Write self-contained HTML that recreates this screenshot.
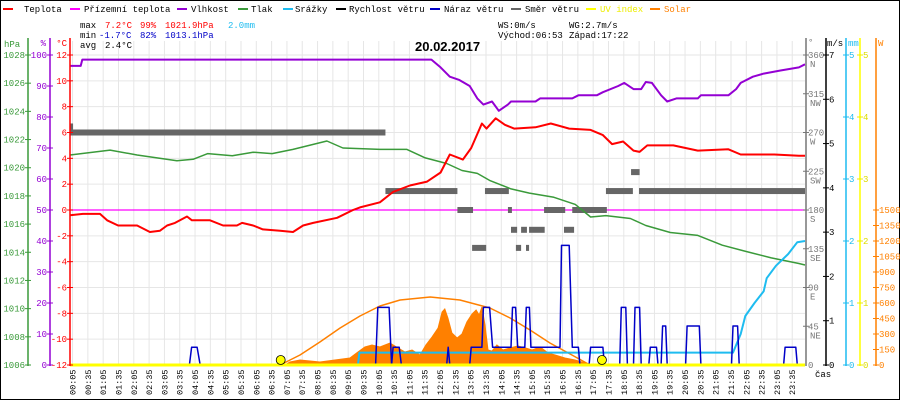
<!DOCTYPE html>
<html><head><meta charset="utf-8">
<style>
html,body{margin:0;padding:0;background:#fff;}
svg{display:block;font-family:"Liberation Mono","DejaVu Sans Mono",monospace;}
</style></head>
<body>
<svg id="chart" width="900" height="400" viewBox="0 0 900 400" xmlns="http://www.w3.org/2000/svg">
<rect x="0.5" y="0.5" width="899" height="399" fill="#fff" stroke="#000"/>
<g id="grid"></g>
<g id="legend" font-size="9">
  <g><rect x="3" y="8" width="10" height="2" fill="#f00"/><text x="24" y="12">Teplota</text></g>
  <g><rect x="70" y="8" width="10" height="2" fill="#f0f"/><text x="84" y="12">Přízemní teplota</text></g>
  <g><rect x="177" y="8" width="10" height="2" fill="#9400d3"/><text x="191" y="12">Vlhkost</text></g>
  <g><rect x="238" y="8" width="10" height="2" fill="#3a9a3a"/><text x="251" y="12">Tlak</text></g>
  <g><rect x="283" y="8" width="10" height="2" fill="#1ebcf0"/><text x="295" y="12">Srážky</text></g>
  <g><rect x="336" y="8" width="10" height="2" fill="#000"/><text x="349" y="12">Rychlost větru</text></g>
  <g><rect x="430" y="8" width="10" height="2" fill="#0000c8"/><text x="444" y="12">Náraz větru</text></g>
  <g><rect x="511" y="8" width="10" height="2" fill="#666"/><text x="525" y="12">Směr větru</text></g>
  <g><rect x="586" y="8" width="10" height="2" fill="#ff0"/><text x="600" y="12" fill="#ee0">UV index</text></g>
  <g><rect x="650" y="8" width="10" height="2" fill="#ff8000"/><text x="664" y="12" fill="#ff8000">Solar</text></g>
</g>
<g font-size="9">
  <text x="80" y="28">max</text><text x="105" y="28" fill="#f00">7.2°C</text><text x="140" y="28" fill="#f00">99%</text><text x="165" y="28" fill="#f00">1021.9hPa</text><text x="228" y="28" fill="#1ebcf0">2.0mm</text>
  <text x="80" y="38">min</text><text x="99" y="38" fill="#0000c8">-1.7°C</text><text x="140" y="38" fill="#0000c8">82%</text><text x="165" y="38" fill="#0000c8">1013.1hPa</text>
  <text x="80" y="48">avg</text><text x="105" y="48">2.4°C</text>
  <text x="498" y="28">WS:0m/s</text><text x="569" y="28">WG:2.7m/s</text>
  <text x="498" y="38">Východ:06:53</text><text x="569" y="38">Západ:17:22</text>
</g>
<text x="415" y="51" font-size="13" font-weight="bold" font-family="Liberation Sans, sans-serif">20.02.2017</text>
<g id="series"></g>
<g id="axes" font-size="9"></g>
</svg>
<script>
const NS="http://www.w3.org/2000/svg";
// ---- data ----
const tempPts=[[0,-0.4],[0.42,-0.3],[0.98,-0.3],[1.21,-0.8],[1.57,-1.2],[2.19,-1.2],[2.61,-1.7],[2.94,-1.6],[3.17,-1.2],[3.43,-1.0],[3.82,-0.5],[3.98,-0.8],[4.57,-0.8],[5.0,-1.2],[5.45,-1.2],[5.62,-1.0],[5.98,-1.2],[6.3,-1.5],[6.86,-1.6],[7.28,-1.7],[7.61,-1.2],[7.94,-1.0],[8.72,-0.6],[9.24,0],[9.47,0.2],[10.12,0.6],[10.55,1.4],[11.1,1.9],[11.66,2.2],[12.1,2.9],[12.4,4.3],[12.83,3.9],[13.1,4.8],[13.45,6.7],[13.6,6.3],[13.9,7.1],[14.2,6.6],[14.5,6.3],[15.2,6.4],[15.7,6.7],[16.3,6.3],[17.0,6.2],[17.4,5.8],[17.7,5.1],[18.06,5.3],[18.4,4.6],[18.6,4.5],[18.85,5.0],[19.7,5.0],[20.5,4.6],[21.5,4.7],[21.9,4.3],[23,4.3],[23.8,4.2],[24,4.2]];
const dewPts=[[0,0],[24,0]];
const humPts=[[0,96.5],[0.35,96.5],[0.4,98.5],[11.8,98.5],[12.1,96],[12.4,93],[12.7,92],[13.05,90],[13.3,86],[13.5,84],[13.78,85],[14.0,82],[14.3,84],[14.4,85],[15.2,85],[15.35,86],[16.4,86],[16.6,87],[17.2,87],[17.4,88],[17.9,90],[18.1,91],[18.4,89],[18.65,89],[18.8,91.3],[19.0,91],[19.3,87],[19.5,85],[19.8,86],[20.5,86],[20.6,87],[21.5,87],[21.75,89],[21.9,91],[22.3,93],[22.65,94],[23.2,95],[23.8,96],[24,97]];
const presPts=[[0,1020.9],[1.31,1021.25],[2.19,1020.9],[3.49,1020.5],[4.02,1020.6],[4.5,1021.0],[5.3,1020.85],[5.98,1021.1],[6.6,1021.0],[7.28,1021.3],[8.39,1021.9],[8.91,1021.4],[10.12,1021.3],[11.0,1021.3],[11.6,1020.7],[12.3,1020.3],[12.8,1019.8],[13.3,1019.6],[13.7,1019.1],[14.4,1018.5],[15.0,1018.2],[15.8,1017.9],[16.5,1017.4],[17.0,1016.5],[17.5,1016.6],[18.3,1016.4],[18.8,1015.9],[19.6,1015.4],[20.5,1015.2],[21.3,1014.5],[22.0,1014.1],[22.9,1013.6],[23.8,1013.2],[24,1013.1]];
const rainPts=[[9.4,0],[9.45,0.2],[21.65,0.2],[21.9,0.5],[22.05,0.79],[22.35,1.0],[22.65,1.19],[22.75,1.4],[23.05,1.6],[23.45,1.79],[23.75,1.98],[24,2.0]];
const gustPts=[[0,0],[3.9,0],[3.97,0.4],[4.15,0.4],[4.25,0],[9.98,0],[10.05,1.3],[10.42,1.3],[10.5,0],[10.55,0.4],[10.75,0.4],[10.82,0],[12.3,0],[12.35,0.4],[12.4,0],[13.05,0],[13.1,0.4],[13.45,0.4],[13.5,1.3],[13.7,1.3],[13.8,0.4],[14.4,0.4],[14.45,1.3],[14.55,1.3],[14.62,0.4],[14.85,0.4],[14.9,1.3],[15.0,1.3],[15.05,0.4],[16.0,0.4],[16.05,2.7],[16.3,2.7],[16.4,0.4],[16.6,0.4],[16.65,0],[16.95,0],[17.0,0.4],[17.4,0.4],[17.45,0],[17.95,0],[18.0,1.3],[18.15,1.3],[18.2,0],[18.4,0],[18.45,1.3],[18.6,1.3],[18.65,0],[18.9,0],[18.95,0.4],[19.15,0.4],[19.2,0],[19.3,0],[19.35,0.88],[19.45,0.88],[19.5,0],[20.1,0],[20.15,0.88],[20.55,0.88],[20.6,0],[21.6,0],[21.65,0.88],[21.8,0.88],[21.85,0],[23.3,0],[23.35,0.4],[23.7,0.4],[23.75,0],[24,0]];
const dirSegs=[[0,0.1,277],[0,10.3,270],[10.3,12.65,202],[13.55,14.33,202],[17.5,18.38,202],[18.58,24,202],[18.32,18.6,224],[12.65,13.16,180],[14.3,14.43,180],[15.48,16.17,180],[16.4,17.53,180],[14.4,14.6,157],[14.73,14.92,157],[14.99,15.5,157],[16.13,16.46,157],[13.13,13.59,136],[14.56,14.73,136],[14.89,14.99,136]];
const solarPts=[[7.02,0],[7.18,29],[7.51,48],[7.84,39],[8.16,29],[8.65,48],[9.14,68],[9.4,126],[9.63,174],[9.86,194],[10.12,174],[10.45,213],[10.71,165],[10.94,126],[11.17,145],[11.43,97],[11.62,194],[11.82,271],[12.02,358],[12.15,513],[12.24,542],[12.34,455],[12.47,310],[12.64,261],[12.8,300],[12.96,416],[13.13,494],[13.26,532],[13.36,484],[13.45,561],[13.55,387],[13.65,145],[13.78,135],[13.94,194],[14.14,145],[14.37,165],[14.63,184],[14.86,165],[15.09,145],[15.35,174],[15.61,116],[15.84,97],[16.16,68],[16.49,48],[16.82,19],[17.14,0]];
const solarTheo=[[6.86,0],[7.51,97],[8.16,223],[8.82,358],[9.47,474],[10.12,571],[10.78,629],[11.76,658],[12.73,629],[13.71,552],[14.37,455],[15.02,339],[15.67,213],[16.33,106],[16.98,0]];
const sunEvents=[6.88,17.37];
const hpaTicks=[1006,1008,1010,1012,1014,1016,1018,1020,1022,1024,1026,1028];
const humTicks=[0,10,20,30,40,50,60,70,80,90,100];
const tempTicks=[-12,-10,-8,-6,-4,-2,0,2,4,6,8,10,12];
const dirTicks=[45,90,135,180,225,270,315,360];
const dirNames=["NE","E","SE","S","SW","W","NW","N"];
const msTicks=[0,1,2,3,4,5,6,7];
const mmTicks=[0,1,2,3,4,5];
const wTicks=[0,150,300,450,600,750,900,1050,1200,1350,1500];
// ---- scales ----
const X0=70,X1=805,YT=55,YB=365;
const xs=h=>X0+h*(X1-X0)/24;
const yT=v=>210-v*(YB-YT)/24;
const yP=p=>YT+(1028-p)*(YB-YT)/22;
const yH=v=>YB-v*(YB-YT)/100;
const yD=d=>YB-d*(YB-YT)/360;
const yMS=v=>YB-v*(YB-YT)/7;
const yMM=v=>YB-v*(YB-YT)/5;
const yW=v=>YB-v*(YB-210)/1500;
const grid=document.getElementById('grid'),series=document.getElementById('series'),axes=document.getElementById('axes');
function mk(tag,attrs,parent){const e=document.createElementNS(NS,tag);for(const k in attrs)e.setAttribute(k,attrs[k]);parent.appendChild(e);return e;}
function line(pts,ys,col,w,name){const e=mk('polyline',{points:pts.map(p=>xs(p[0]).toFixed(1)+','+ys(p[1]).toFixed(1)).join(' '),fill:'none',stroke:col,'stroke-width':w,'stroke-linejoin':'round'},series);

return e;}
// grid
for(let k=0;k<48;k++){const x=xs(k*0.5+5/60);const g=mk('line',{x1:x,x2:x,y1:YT-14,y2:YB,stroke:'#e6e6e6'},grid);

}
tempTicks.forEach(t=>{const y=yT(t);const g=mk('line',{x1:X0,x2:X1,y1:y,y2:y,stroke:'#e6e6e6'},grid);

});
// solar area
const sa=mk('polygon',{points:solarPts.map(p=>xs(p[0]).toFixed(1)+','+yW(p[1]).toFixed(1)).join(' '),fill:'#ff8000',stroke:'#ff8000','stroke-width':1},series);


line(solarTheo,yW,'#ff8000',1.5,'solar-theoretical-line');
line(dewPts,yT,'#f0f',1.2,'dew-point-line');
// direction
dirSegs.forEach(s=>{const r=mk('rect',{x:xs(s[0]),y:yD(s[2])-3,width:xs(s[1])-xs(s[0]),height:6,fill:'#666'},series);

});
line(presPts,yP,'#3a9a3a',1.5,'pressure-line');
line(humPts,yH,'#9400d3',2,'humidity-line');
line(tempPts,yT,'#f00',2,'temperature-line');
line(rainPts,yMM,'#1ebcf0',2,'rain-line');
line(gustPts,yMS,'#0000c8',1.5,'wind-gust-line');
const uv=mk('line',{x1:X0,x2:X1,y1:YB,y2:YB,stroke:'#ff0','stroke-width':3},series);


sunEvents.forEach(h=>{const c=mk('circle',{cx:xs(h),cy:YB-5,r:4.5,fill:'#ff0',stroke:'#000','stroke-width':0.8},series);

});
// axes
function vaxis(x,col,name){const a=mk('line',{x1:x,x2:x,y1:38,y2:YB+1,stroke:col,'stroke-width':1.5},axes);

}
function txt(x,y,s,col,anchor,name){const t=mk('text',{x:x,y:y,fill:col,'text-anchor':anchor||'start'},axes);t.textContent=s;

return t;}
vaxis(28,'#3a9a3a','hpa-axis');vaxis(50,'#9400d3','humidity-axis');vaxis(70,'#f00','temperature-axis');
txt(4,47,'hPa','#3a9a3a','start','hpa-axis-title');txt(46,46,'%','#9400d3','end','humidity-axis-title');txt(67,46,'°C','#f00','end','temperature-axis-title');
hpaTicks.forEach(p=>{const y=yP(p);mk('line',{x1:25,x2:31,y1:y,y2:y,stroke:'#3a9a3a'},axes);txt(25,y+3,String(p),'#3a9a3a','end','hpa-tick-label');});
humTicks.forEach(p=>{const y=yH(p);mk('line',{x1:47,x2:53,y1:y,y2:y,stroke:'#9400d3'},axes);txt(47,y+3,String(p),'#9400d3','end','humidity-tick-label');});
tempTicks.forEach(p=>{const y=yT(p);mk('line',{x1:67,x2:73,y1:y,y2:y,stroke:'#f00'},axes);txt(67,y+3,String(p),'#f00','end','temperature-tick-label');});
vaxis(806,'#777','direction-axis');vaxis(826,'#000','wind-speed-axis');vaxis(846,'#1ebcf0','rain-axis');vaxis(860,'#ff0','uv-axis');vaxis(876,'#ff8000','solar-axis');
txt(808,45,'°','#777','start','direction-axis-title');txt(827,46,'m/s','#000','start','wind-speed-axis-title');txt(848,46,'mm','#1ebcf0','start','rain-axis-title');txt(878,46,'W','#ff8000','start','solar-axis-title');
txt(808,YB+3,'0','#777','start','direction-tick-label');
dirTicks.forEach((d,i)=>{const y=yD(d);mk('line',{x1:803,x2:809,y1:y,y2:y,stroke:'#777'},axes);txt(808,y+3,String(d),'#777','start','direction-tick-label');txt(810,y+12,dirNames[i],'#777','start','direction-name-label');});
msTicks.forEach(v=>{const y=yMS(v);mk('line',{x1:823,x2:829,y1:y,y2:y,stroke:'#000'},axes);txt(829,y+3,String(v),'#000','start','wind-speed-tick-label');});
mmTicks.forEach(v=>{const y=yMM(v);mk('line',{x1:843,x2:849,y1:y,y2:y,stroke:'#1ebcf0'},axes);txt(849,y+3,String(v),'#1ebcf0','start','rain-tick-label');});
mmTicks.forEach(v=>{const y=yMM(v);mk('line',{x1:857,x2:863,y1:y,y2:y,stroke:'#ee0'},axes);txt(863,y+3,String(v),'#dd0','start','uv-tick-label');});
wTicks.forEach(v=>{const y=yW(v);mk('line',{x1:873,x2:879,y1:y,y2:y,stroke:'#ff8000'},axes);txt(879,y+3,String(v),'#ff8000','start','solar-tick-label');});
// time labels
for(let k=0;k<48;k++){const h=Math.floor(k/2),m=k%2?35:5;const s=String(h).padStart(2,'0')+':'+String(m).padStart(2,'0');const x=xs(k*0.5+5/60)+3;
const t=mk('text',{x:0,y:0,transform:'translate('+x+',395) rotate(-90)',fill:'#000','font-size':8.5},axes);t.textContent=s;

}
txt(815,377,'čas','#000','start','time-axis-title');
</script>
</body></html>
